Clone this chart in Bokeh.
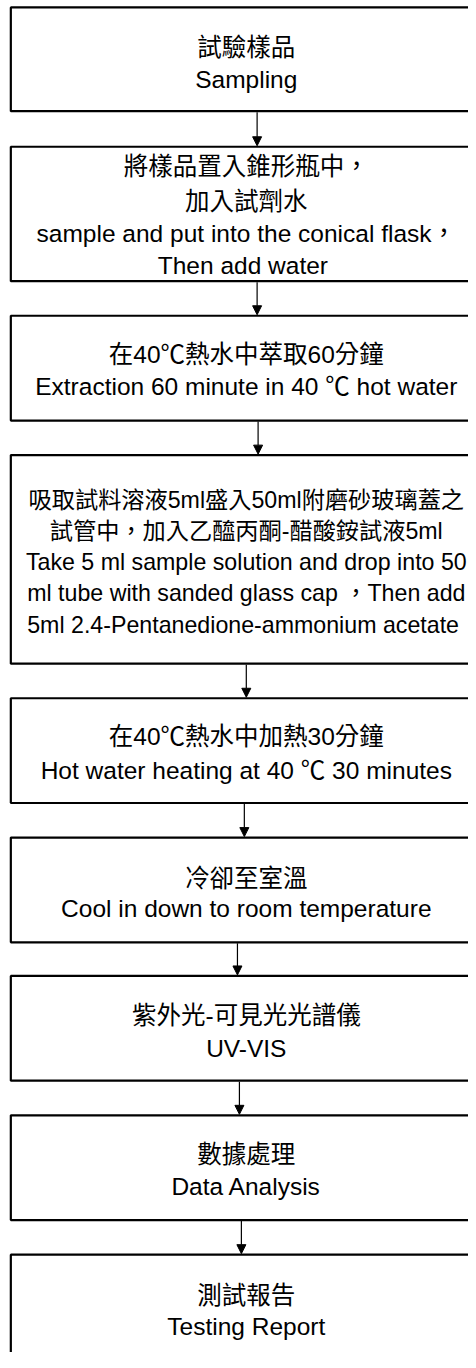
from bokeh.plotting import figure
from bokeh.models import Range1d, ColumnDataSource, Arrow, NormalHead
from bokeh.core.properties import value
from bokeh.embed import file_html
from bokeh.resources import INLINE

# ---- content (text of each step, one list of lines per box) ----
step_lines = [
    ["試驗樣品", "Sampling"],
    ["將樣品置入錐形瓶中，", "加入試劑水", "sample and put into the conical flask，", "Then add  water"],
    ["在40℃熱水中萃取60分鐘", "Extraction 60 minute in 40 ℃ hot water"],
    ["吸取試料溶液5ml盛入50ml附磨砂玻璃蓋之", "試管中，加入乙醯丙酮-醋酸銨試液5ml",
     "Take 5 ml sample solution and drop into 50", "ml tube with sanded glass cap ，Then add",
     "5ml  2.4-Pentanedione-ammonium acetate"],
    ["在40℃熱水中加熱30分鐘", "Hot water heating at 40 ℃ 30 minutes"],
    ["冷卻至室溫", "Cool in down to room temperature"],
    ["紫外光-可見光光譜儀", "UV-VIS"],
    ["數據處理", "Data Analysis"],
    ["測試報告", "Testing Report"],
]

# ---- layout (reference pixel coordinates) ----
box_top = [7, 148, 319, 460, 706, 847, 987, 1128, 1269]
box_bottom = [112, 284, 425, 671, 812, 953, 1093, 1234, 1420]
line_y = [
    [48, 80],
    [168, 203, 236, 268],
    [358, 391],
    [505, 537, 568, 600, 632],
    [745, 779],
    [888, 919],
    [1027, 1060],
    [1168, 1200],
    [1310, 1342],
]
arrow_x = [261, 261, 262, 250, 248, 241, 243, 245]
box_font = ["24.5px", "24.5px", "24.5px", "23.2px", "24.5px", "24.5px", "24.5px", "24.5px", "24.5px"]
box_left = 10.5
box_right = 520
text_cx = 250

W, H = 468, 1352
p = figure(width=W, height=H, output_backend="svg", toolbar_location=None,
           x_range=Range1d(0, 476), y_range=Range1d(1368, 0),
           min_border=0, outline_line_color=None)
p.axis.visible = False
p.grid.visible = False
p.background_fill_color = "white"

p.quad(left=[box_left] * len(box_top), right=[box_right] * len(box_top),
       top=box_top, bottom=box_bottom, fill_color=None,
       line_color="black", line_width=2.2)

src = ColumnDataSource(dict(
    x=arrow_x,
    y0=[b + 1 for b in box_bottom[:-1]],
    y1=[t - 1 for t in box_top[1:]],
))
p.add_layout(Arrow(end=NormalHead(size=9, line_color="black", fill_color="black", line_width=1),
                   x_start="x", y_start="y0", x_end="x", y_end="y1",
                   line_color="black", line_width=1.2, source=src))

tx, ty, tt, fs = [], [], [], []
for lines, ys, f in zip(step_lines, line_y, box_font):
    for s, y in zip(lines, ys):
        tx.append(text_cx)
        ty.append(y)
        tt.append(s)
        fs.append(f)

tsrc = ColumnDataSource(dict(x=tx, y=ty, text=tt, fs=fs))
p.text(x="x", y="y", text="text", source=tsrc, text_align="center", text_baseline="middle",
       text_font=value("Liberation Sans, Noto Sans CJK TC"),
       text_font_size="fs", text_color="black")

open("out.html", "w").write(file_html(p, INLINE))
